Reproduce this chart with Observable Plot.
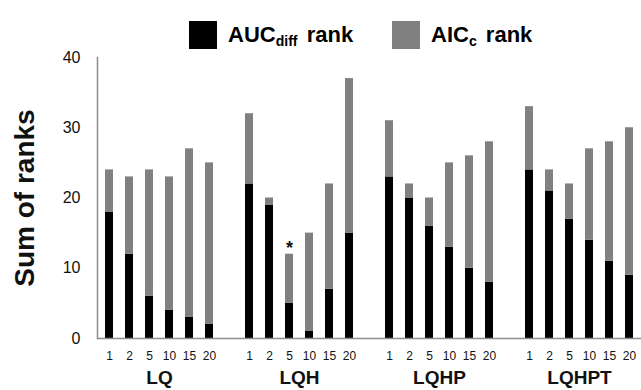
<!DOCTYPE html>
<html>
<head>
<meta charset="utf-8">
<script src="https://cdn.jsdelivr.net/npm/d3@7"></script>
<script src="https://cdn.jsdelivr.net/npm/@observablehq/plot@0.6"></script>
<style>
  body { margin: 0; background: #fff; font-family: "Liberation Sans", Arial, sans-serif; }
  #wrap { position: relative; width: 641px; height: 390px; overflow: hidden; }
  #chart { position: absolute; left: 0; top: 0; }
  .leg { position: absolute; top: 21px; height: 28px; display: flex; align-items: center; font-weight: bold; font-size: 22px; color: #000; white-space: nowrap; }
  .sw { display: inline-block; width: 28px; height: 28px; margin-right: 11px; box-sizing: border-box; }
  .leg sub { font-size: 0.64em; vertical-align: -0.3em; line-height: 0; margin-right: 3px; }
</style>
</head>
<body>
<div id="wrap">
  <div id="chart"></div>
  <div class="leg" id="leg0" style="left:189px"></div>
  <div class="leg" id="leg1" style="left:392px"></div>
</div>
<script>
// ---- data ----
const groups = ["LQ", "LQH", "LQHP", "LQHPT"];
const levels = ["1", "2", "5", "10", "15", "20"];
const aucRank = [
  [18, 12, 6, 4, 3, 2],
  [22, 19, 5, 1, 7, 15],
  [23, 20, 16, 13, 10, 8],
  [24, 21, 17, 14, 11, 9]
];
const aicRank = [
  [6, 11, 18, 19, 24, 23],
  [10, 1, 7, 14, 15, 22],
  [8, 2, 4, 12, 16, 20],
  [9, 3, 5, 13, 17, 21]
];
const seriesNames = ["AUCdiff rank", "AICc rank"];
const seriesHtml = ["AUC<sub>diff</sub> rank", "AIC<sub>c</sub> rank"];
const seriesColors = ["#000000", "#808080"];
const yTicks = [0, 10, 20, 30, 40];
const yLabel = "Sum of ranks";
const starred = [{group: "LQH", level: "5"}];

// ---- build table ----
const keyOf = (g, l) => g + " " + l;
const domain = [];
groups.forEach((g, i) => {
  if (i > 0) domain.push("gap" + i);
  levels.forEach(l => domain.push(keyOf(g, l)));
});
const rows = [];
groups.forEach((g, gi) => {
  levels.forEach((l, li) => {
    rows.push({key: keyOf(g, l), series: seriesNames[0], value: aucRank[gi][li]});
    rows.push({key: keyOf(g, l), series: seriesNames[1], value: aicRank[gi][li]});
  });
});
const stars = starred.map(s => {
  const gi = groups.indexOf(s.group), li = levels.indexOf(s.level);
  return {key: keyOf(s.group, s.level), total: aucRank[gi][li] + aicRank[gi][li]};
});

// ---- legend ----
seriesHtml.forEach((h, i) => {
  document.getElementById("leg" + i).innerHTML =
    `<span class="sw" style="background:${seriesColors[i]}"></span><span>${h}</span>`;
});

// ---- chart ----
const axisColor = "#8c8c8c";
const chart = Plot.plot({
  width: 641,
  height: 390,
  marginLeft: 97,
  marginRight: 0,
  marginTop: 57,
  marginBottom: 52,
  style: {fontFamily: "'Liberation Sans', Arial, sans-serif", background: "#fff", color: "#111"},
  x: {domain, paddingInner: 0.6, paddingOuter: 0.3, axis: null},
  y: {domain: [0, 40], axis: null},
  color: {domain: seriesNames, range: seriesColors},
  marks: [
    Plot.barY(rows, {x: "key", y: "value", fill: "series"}),
    Plot.ruleY([0], {stroke: axisColor, strokeWidth: 1.5}),
    Plot.frame({anchor: "left", stroke: axisColor, strokeWidth: 1.5}),
    Plot.axisX({
      tickSize: 0, tickPadding: 13, fontSize: 12, label: null,
      tickFormat: d => d.startsWith("gap") ? "" : d.split(" ")[1]
    }),
    Plot.axisY({ticks: yTicks, tickSize: 0, tickPadding: 17, fontSize: 16, label: null}),
    Plot.text(groups, {
      x: g => keyOf(g, levels[2]), frameAnchor: "bottom", dx: 10, dy: 45,
      text: d => d, fontSize: 19, fontWeight: "bold", fill: "#111"
    }),
    Plot.text(stars, {x: "key", y: "total", text: () => "*", dy: -6, fontSize: 18, fontWeight: "bold", fill: "#111"}),
    Plot.text([yLabel], {
      frameAnchor: "left", textAnchor: "middle", rotate: -90, dx: -72, text: d => d,
      fontSize: 28, fontWeight: "bold", fill: "#111"
    })
  ]
});
document.getElementById("chart").appendChild(chart);
</script>
</body>
</html>
